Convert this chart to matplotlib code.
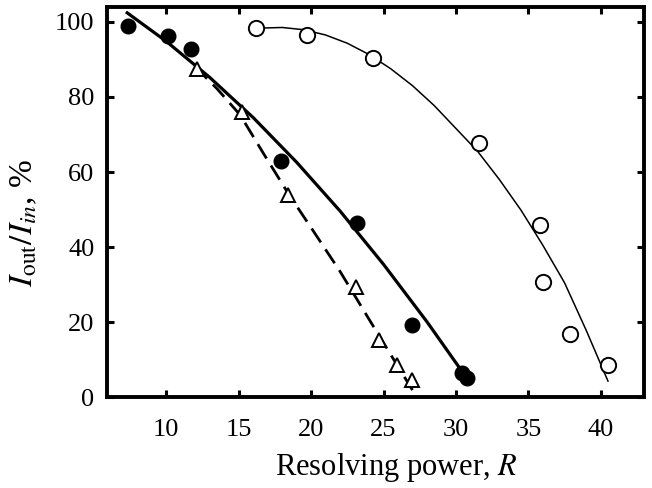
import matplotlib
matplotlib.use("Agg")
import matplotlib.pyplot as plt

# measured points
filled_x = [7.35, 10.1, 11.7, 17.9, 23.2, 27.0, 30.4, 30.75]
filled_y = [99.0, 96.3, 92.8, 63.0, 46.3, 19.2, 6.5, 5.2]

tri_x = [12.1, 15.2, 18.4, 23.1, 24.7, 25.9, 27.0]
tri_y = [87.5, 76.0, 54.0, 29.3, 15.3, 8.7, 4.5]

open_x = [16.2, 19.7, 24.3, 31.6, 35.8, 36.0, 37.9, 40.5]
open_y = [98.3, 96.5, 90.3, 67.8, 46.0, 30.8, 16.8, 8.5]

# fitted curves
fit_filled_x = [7.3, 10.0, 13.0, 16.0, 19.0, 22.0, 25.0, 28.0, 30.6]
fit_filled_y = [102.4, 94.8, 85.2, 74.5, 62.6, 49.6, 35.4, 20.1, 5.9]

fit_tri_x = [12.0, 13.5, 15.1, 16.7, 18.4, 20.2, 22.0, 24.5, 27.0]
fit_tri_y = [88.0, 82.2, 75.2, 65.0, 54.4, 44.0, 33.5, 17.6, 1.9]

fit_open_x = [16.2, 18.0, 19.5, 21.0, 22.5, 24.0, 25.5, 27.0, 28.5,
              30.0, 31.5, 33.0, 34.5, 36.0, 37.5, 39.0, 40.5]
fit_open_y = [98.3, 98.5, 97.9, 96.5, 94.3, 91.3, 87.5, 83.0, 77.7,
              71.6, 65.5, 58.0, 49.8, 40.5, 30.5, 17.8, 4.3]

plt.rcParams["font.family"] = ["Liberation Serif", "DejaVu Serif"]
plt.rcParams["mathtext.fontset"] = "stix"

fig = plt.figure(figsize=(6.52, 4.88), dpi=100)
ax = fig.add_axes([0.164, 0.186, 0.824, 0.80])

ax.plot(fit_filled_x, fit_filled_y, color="black", lw=2.3, solid_joinstyle="round")
ax.plot(fit_tri_x, fit_tri_y, color="black", lw=2.0, ls=(0, (6, 3)))
ax.plot(fit_open_x, fit_open_y, color="black", lw=1.1, solid_joinstyle="round")

ax.plot(filled_x, filled_y, "o", ms=10.5, mfc="black", mec="black", ls="none")
ax.plot(tri_x, tri_y, "^", ms=10, mfc="white", mec="black", mew=1.4, ls="none")
ax.plot(open_x, open_y, "o", ms=11, mfc="white", mec="black", mew=1.4, ls="none")

ax.set_xlim(5.9, 43)
ax.set_ylim(0, 104)
ax.set_xticks([10, 15, 20, 25, 30, 35, 40])
ax.set_yticks([0, 20, 40, 60, 80, 100])

for s in ax.spines.values():
    s.set_linewidth(2.8)
ax.tick_params(direction="in", length=5, width=2.2, top=True, right=True,
               labelsize=19)
ax.tick_params(axis="x", pad=16)
ax.tick_params(axis="y", pad=9)

ax.set_xlabel(r"Resolving power, $R$", fontsize=22)
ax.set_ylabel(r"$I_{\rm out}/I_{in}$, %", fontsize=24)
ax.xaxis.set_label_coords(0.538, -0.138)
ax.yaxis.set_label_coords(-0.125, 0.446)

fig.savefig("out.png", dpi=100)
